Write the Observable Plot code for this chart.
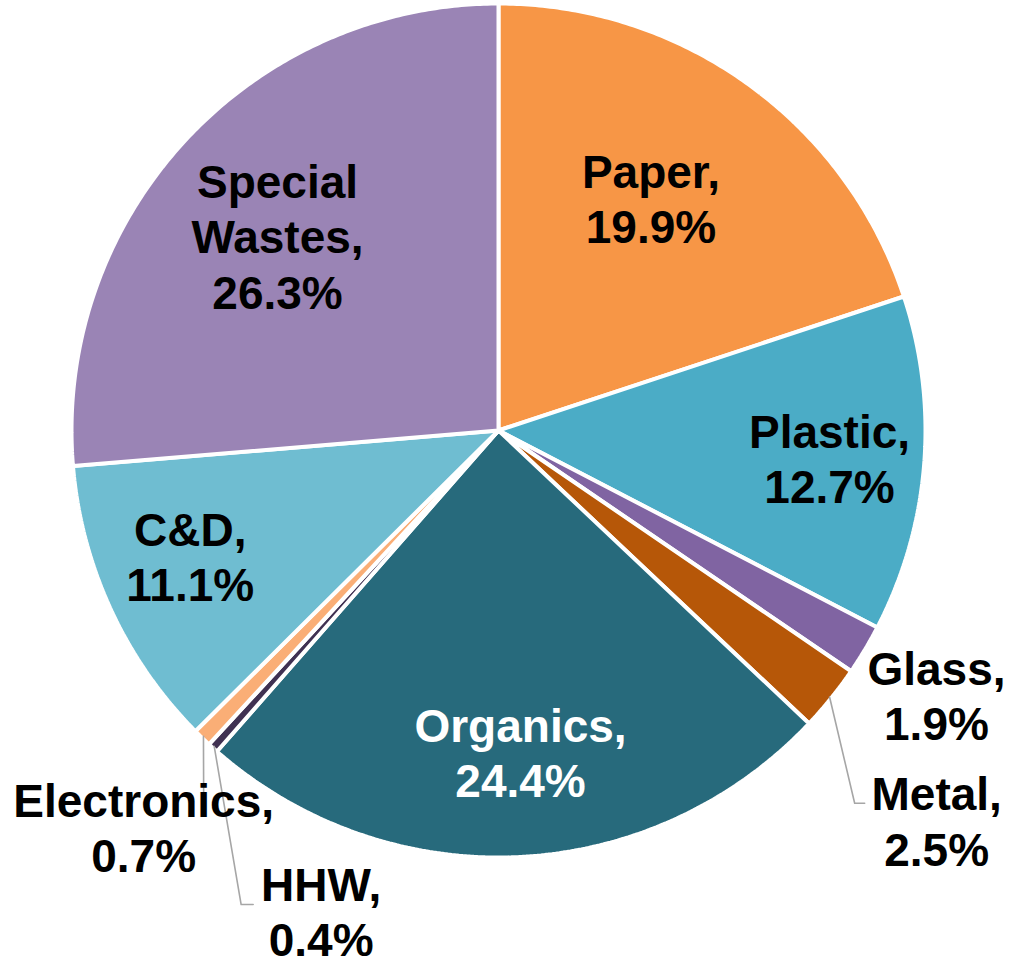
<!DOCTYPE html>
<html>
<head>
<meta charset="utf-8">
<script src="https://cdn.jsdelivr.net/npm/d3@7"></script>
<script src="https://cdn.jsdelivr.net/npm/@observablehq/plot@0.6"></script>
<style>
  html, body { margin: 0; padding: 0; background: #fff; }
  #chart { width: 1012px; height: 966px; }
</style>
</head>
<body>
<div id="chart"></div>
<script>
// ---- data ----
const names = ["Paper", "Plastic", "Glass", "Metal", "Organics", "HHW", "Electronics", "C&D", "Special Wastes"];
const values = [19.9, 12.7, 1.9, 2.5, 24.4, 0.4, 0.7, 11.1, 26.3];
const displayNames = ["Paper", "Plastic", "Glass", "Metal", "Organics", "HHW", "Electronics", "C&D", "Special\nWastes"];

// ---- style / layout ----
const colors = ["#F79646", "#4BACC6", "#8064A2", "#B65708", "#276A7C", "#403152", "#FAAE76", "#6FBDD1", "#9A84B5"];
const textColors = ["#000", "#000", "#000", "#000", "#fff", "#000", "#000", "#000", "#000"];
// label placement: [angle in degrees clockwise from 12 o'clock, radius as fraction of pie radius]
const labelPolar = [[33.5, 0.65], [95.1, 0.782], [121.3, 1.206], [131.8, 1.383], [176.1, 0.762], [200.2, 1.2085], [221.7, 1.255], [247.5, 0.785], [311.1, 0.69]];
// leader elbows relative to label centre, in pixels: [dx, dy(down), horizontal tail length]
const leaderLayout = {"Metal": [-82, -19, 10], "HHW": [-80, -8, 12], "Electronics": [60, -25, 0]};

const W = 1012, H = 966, CX = 498, CY = 430, R = 425;
const px = 1 / R; // one pixel in data units

const total = d3.sum(values);
let cum = 0;
const slices = names.map((n, i) => {
  const a0 = cum / total * 2 * Math.PI;
  cum += values[i];
  const a1 = cum / total * 2 * Math.PI;
  return {name: n, a0, a1, mid: (a0 + a1) / 2};
});

// polygon points of each slice (unit circle, slightly enlarged to compensate for outer white stroke)
const rr = 1 + 2 * px;
const polyPts = [];
slices.forEach(s => {
  polyPts.push({name: s.name, x: 0, y: 0});
  const steps = Math.max(2, Math.ceil((s.a1 - s.a0) / (Math.PI / 360)));
  for (let k = 0; k <= steps; k++) {
    const a = s.a0 + (s.a1 - s.a0) * k / steps;
    polyPts.push({name: s.name, x: rr * Math.sin(a), y: rr * Math.cos(a)});
  }
  polyPts.push({name: s.name, x: 0, y: 0});
});

const labels = names.map((n, i) => {
  const [deg, r] = labelPolar[i];
  const a = deg * Math.PI / 180;
  return {
    name: n,
    text: displayNames[i] + ",\n" + values[i].toFixed(1) + "%",
    x: r * Math.sin(a), y: r * Math.cos(a),
    color: textColors[i]
  };
});

const leaderPts = [];
Object.entries(leaderLayout).forEach(([n, [dx, dy, tail]]) => {
  const s = slices.find(d => d.name === n);
  const l = labels.find(d => d.name === n);
  leaderPts.push({name: n, x: Math.sin(s.mid), y: Math.cos(s.mid)});
  const ex = l.x + dx * px, ey = l.y - dy * px;
  leaderPts.push({name: n, x: ex, y: ey});
  if (tail) leaderPts.push({name: n, x: ex + tail * px, y: ey});
});

const chart = Plot.plot({
  width: W,
  height: H,
  margin: 0,
  x: {domain: [(0 - CX) / R, (W - CX) / R], axis: null},
  y: {domain: [(CY - H) / R, CY / R], axis: null},
  color: {domain: names, range: colors},
  style: {background: "#fff", overflow: "visible"},
  marks: [
    Plot.line(polyPts, {x: "x", y: "y", z: "name", fill: "name", stroke: "#fff", strokeWidth: 4, strokeLinejoin: "miter", curve: "linear"}),
    Plot.line(leaderPts, {x: "x", y: "y", z: "name", stroke: "#A6A6A6", strokeWidth: 1.6, curve: "linear"}),
    Plot.text(labels, {
      x: "x", y: "y", text: "text", fill: "color", dy: -2,
      fontSize: 46, fontWeight: "bold", fontFamily: "Liberation Sans, Arial, sans-serif",
      lineHeight: 1.2, textAnchor: "middle"
    })
  ]
});
document.getElementById("chart").appendChild(chart);
</script>
</body>
</html>
